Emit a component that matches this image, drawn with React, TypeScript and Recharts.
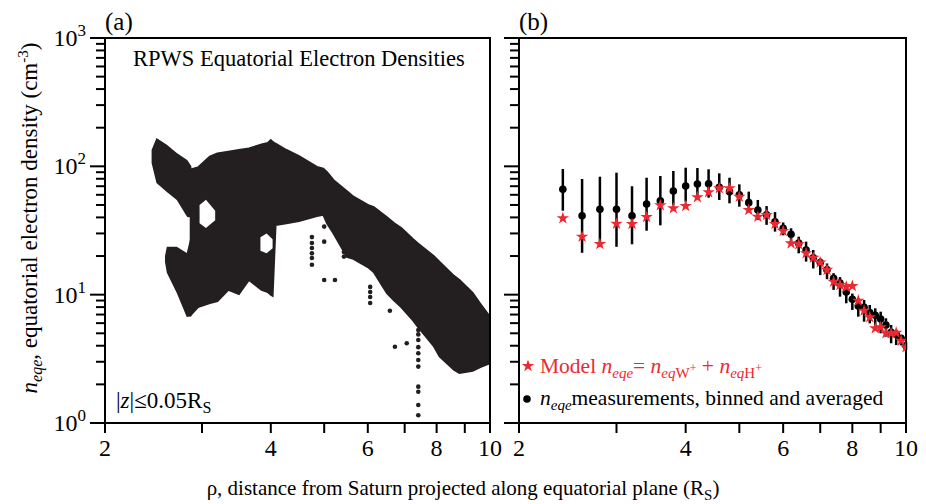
import { ComposedChart, Area, Scatter, XAxis, YAxis, ErrorBar, ReferenceArea, Symbols } from "recharts";

const FONT = '"Liberation Serif", "Times New Roman", serif';
const INK = "#231f20";
const RED = "#ec2830";

// axis ticks
const xTicks = [2, 3, 4, 5, 6, 7, 8, 9, 10];
const xLabels = [2, 4, 6, 8, 10];
const decades = [1, 10, 100];
const mantissas = [1, 2, 3, 4, 5, 6, 7, 8, 9];
const yTicks = decades.flatMap((d) => mantissas.map((m) => m * d)).concat(1000);

// panel (a): envelope of the RPWS density cloud
const cloudX = [2.85, 2.95, 3.1, 3.2, 3.35, 3.5, 3.65, 3.85, 3.95, 4.0, 4.03, 4.08, 4.27, 4.5, 4.85, 4.98, 5.06, 5.2, 5.5, 5.65, 6.0, 6.15, 6.5, 6.7, 6.9, 7.25, 7.4, 7.9, 8.1, 8.6, 8.8, 9.3, 9.6, 10];
const cloudHi = [94, 98, 119, 126, 130, 134, 138, 148, 152, 160, 155, 150, 134, 120, 99, 96, 90, 78, 64, 58, 50, 48, 40, 36, 33, 27, 25, 20, 18, 14, 13, 10.3, 8.5, 6.7];
const cloudLo = [6.8, 8.0, 8.6, 8.9, 10.9, 10.1, 13, 10.9, 10.5, 10, 9.8, 34.9, 36, 37.5, 41, 42, 36, 30, 19.7, 19, 16.4, 15, 10.3, 9, 8.0, 6.3, 5.6, 4, 3.3, 2.6, 2.45, 2.55, 2.73, 2.93];

const featherX = [2.43, 2.48, 2.59, 2.7, 2.82, 2.87];
const featherHi = [134, 166, 147, 127, 112, 100];
const featherLo = [106, 74, 63, 54.7, 40.3, 40];

const chunkX = [2.57, 2.59, 2.7, 2.815, 2.87];
const chunkHi = [20, 23.6, 23.6, 21.1, 30];
const chunkLo = [18, 14.8, 10.3, 6.7, 6.8];

// gaps inside the cloud
const hole1X = [2.97, 3.05, 3.17];
const hole1Hi = [50, 55, 45];
const hole1Lo = [36, 33, 38];
const hole2X = [3.83, 3.93, 4.03];
const hole2Hi = [28, 30, 27];
const hole2Lo = [22, 21, 23];

// isolated points under the cloud
const strayX = [4.75, 4.75, 4.75, 4.75, 4.75, 4.75, 5.0, 5.0, 5.0, 5.23, 5.43, 5.43, 5.43, 6.06, 6.06, 6.06, 6.06, 6.58, 6.72, 7.06, 7.41, 7.41, 7.41, 7.41, 7.41, 7.41, 7.41, 7.41, 7.41, 7.41, 7.41];
const strayY = [28.1, 25.3, 23.1, 21, 19.3, 17.1, 33.9, 25.9, 13.0, 13.0, 23.6, 21.5, 19.8, 11.5, 10.5, 9.6, 8.6, 7.5, 3.93, 4.18, 5.3, 4.9, 4.43, 3.9, 3.5, 3.1, 2.75, 1.92, 1.75, 1.38, 1.15];

// panel (b): binned measurements and model
const binX = [2.4, 2.6, 2.8, 3.0, 3.2, 3.4, 3.6, 3.8, 4.0, 4.2, 4.4, 4.6, 4.8, 5.0, 5.2, 5.4, 5.6, 5.8, 6.0, 6.2, 6.4, 6.6, 6.8, 7.0, 7.2, 7.4, 7.6, 7.8, 8.0, 8.2, 8.4, 8.6, 8.8, 9.0, 9.2, 9.4, 9.6, 9.8, 10];
const measured = [66.2, 41.2, 46.3, 46.3, 41.2, 50.9, 54, 64.2, 70.3, 72.8, 73, 68.7, 63.5, 60, 52.1, 45.7, 42, 37, 32.9, 29.5, 25.2, 22.3, 19.4, 17.8, 15.6, 13.4, 12.3, 10.5, 9.2, 8.16, 7.97, 7.24, 6.9, 6.46, 5.8, 5.1, 4.9, 4.57, 4.0];
const measLo = [45.1, 21.2, 23.6, 23.6, 24.7, 31.5, 34.7, 50, 53, 56, 57, 54.7, 51.5, 48.5, 47.1, 38.2, 35, 31, 29, 24.4, 21, 18.1, 16.0, 14.2, 13.2, 10.9, 9.65, 8.57, 7.6, 6.74, 6.16, 5.98, 5.63, 5.0, 4.71, 4.18, 4.05, 4.05, 3.7];
const measHi = [95.3, 79.7, 83, 89.2, 69.9, 81.5, 84.1, 92, 97.6, 97, 94.8, 88.2, 81.5, 72.4, 63.5, 54.7, 49, 44, 36.5, 32.9, 28.3, 25.9, 22.3, 19.2, 17.5, 14.7, 13.7, 11.9, 10.2, 9.36, 9.09, 8.31, 7.83, 7.37, 6.54, 5.8, 5.3, 4.85, 4.3];
const model = [39.4, 28.3, 24.8, 35.7, 35.5, 40.3, 49.7, 47.1, 49.1, 57.4, 62.8, 67.4, 67.4, 58, 45.7, 40.5, 41.8, 35.5, 31.3, 25.1, 24.7, 21, 19.4, 17.8, 15.6, 12.6, 11.9, 11.5, 11.7, 8.98, 7.5, 6.66, 5.47, 5.56, 5.0, 5.0, 5.05, 4.38, 3.89];

const band = (xs: number[], lo: number[], hi: number[]) => xs.map((x, i) => ({ x, range: [lo[i], hi[i]] }));

const cloudData = band(cloudX, cloudLo, cloudHi);
const featherData = band(featherX, featherLo, featherHi);
const chunkData = band(chunkX, chunkLo, chunkHi);
const hole1Data = band(hole1X, hole1Lo, hole1Hi);
const hole2Data = band(hole2X, hole2Lo, hole2Hi);
const strayData = strayX.map((x, i) => ({ x, y: strayY[i] }));
const measData = binX.map((x, i) => ({ x, y: measured[i], err: [measured[i] - measLo[i], measHi[i] - measured[i]] }));
const modelData = binX.map((x, i) => ({ x, y: model[i] }));

const TXT = { fontFamily: FONT };

function XTick(props: any) {
  const { x, y, payload } = props;
  const v = payload.value;
  return (
    <g>
      <line x1={x} x2={x} y1={y} y2={y + 10} stroke="#000" strokeWidth={2} />
      {xLabels.includes(v) && (
        <text x={x} y={y + 33} textAnchor="middle" fontSize={24} style={TXT} fill="#000">
          {v}
        </text>
      )}
    </g>
  );
}

function YTick(props: any) {
  const { x, y, payload, labels } = props;
  const v = payload.value;
  const lg = Math.log10(v);
  const exp = Math.round(lg);
  const major = Math.abs(lg - exp) < 1e-6;
  const len = major ? 15 : 9;
  return (
    <g>
      <line x1={x - len} x2={x} y1={y} y2={y} stroke="#000" strokeWidth={2} />
      {labels && major && (
        <text x={x - 19} y={y + 8} textAnchor="end" fontSize={24} style={TXT} fill="#000">
          10<tspan dy={-10} fontSize={17}>{exp}</tspan>
        </text>
      )}
    </g>
  );
}

function Axes({ labels, yWidth }: { labels: boolean; yWidth: number }) {
  return [
    <XAxis
      key="x"
      dataKey="x"
      type="number"
      scale="log"
      domain={[2, 10]}
      ticks={xTicks}
      interval={0}
      allowDataOverflow
      height={40}
      tickSize={0}
      tickMargin={0}
      axisLine={false}
      tickLine={false}
      tick={(p: any) => <XTick {...p} />}
    />,
    <YAxis
      key="y"
      type="number"
      scale="log"
      domain={[1, 1000]}
      ticks={yTicks}
      interval={0}
      allowDataOverflow
      width={yWidth}
      tickSize={0}
      tickMargin={0}
      axisLine={false}
      tickLine={false}
      tick={(p: any) => <YTick {...p} labels={labels} />}
    />,
  ];
}

const sub = 5;

export default function App() {
  return (
    <div style={{ position: "absolute", left: 0, top: 0, width: 926, height: 504, background: "#fff" }}>
      <div style={{ position: "absolute", left: 0, top: 0 }}>
        <ComposedChart width={516} height={504} margin={{ top: 38, right: 26, bottom: 41, left: 55 }}>
          {Axes({ labels: true, yWidth: 50 })}
          <Area data={featherData} dataKey="range" type="linear" stroke="none" fill={INK} fillOpacity={1} isAnimationActive={false} />
          <Area data={chunkData} dataKey="range" type="linear" stroke="none" fill={INK} fillOpacity={1} isAnimationActive={false} />
          <Area data={cloudData} dataKey="range" type="linear" stroke={INK} strokeWidth={2} fill={INK} fillOpacity={1} isAnimationActive={false} />
          <Area data={hole1Data} dataKey="range" type="linear" stroke="none" fill="#fff" fillOpacity={1} isAnimationActive={false} />
          <Area data={hole2Data} dataKey="range" type="linear" stroke="none" fill="#fff" fillOpacity={1} isAnimationActive={false} />
          <Scatter data={strayData} dataKey="y" fill={INK} isAnimationActive={false}
            shape={(p: any) => <circle cx={p.cx} cy={p.cy} r={2.3} fill={INK} />} />
          <ReferenceArea x1={2} x2={10} y1={1} y2={1000} fill="none" stroke="#000" strokeWidth={2} />
        </ComposedChart>
      </div>
      <div style={{ position: "absolute", left: 500, top: 0 }}>
        <ComposedChart width={426} height={504} margin={{ top: 38, right: 20, bottom: 41, left: 0 }}>
          {Axes({ labels: false, yWidth: 19 })}
          <Scatter data={measData} dataKey="y" fill="#000" isAnimationActive={false}
            shape={(p: any) => <circle cx={p.cx} cy={p.cy} r={3.8} fill="#000" />}>
            <ErrorBar dataKey="err" direction="y" width={0} stroke="#000" strokeWidth={2.5} />
          </Scatter>
          <Scatter data={modelData} dataKey="y" fill={RED} isAnimationActive={false}
            shape={(p: any) => <Symbols cx={p.cx} cy={p.cy} type="star" size={48} fill={RED} />} />
          <ReferenceArea x1={2} x2={10} y1={1} y2={1000} fill="none" stroke="#000" strokeWidth={2} />
        </ComposedChart>
      </div>
      <svg width={926} height={504} style={{ position: "absolute", left: 0, top: 0, pointerEvents: "none" }}>
        <text x={105} y={30} fontSize={25} style={TXT}>(a)</text>
        <text x={519} y={30} fontSize={25} style={TXT}>(b)</text>
        <text x={133} y={66} fontSize={22.5} style={TXT}>RPWS Equatorial Electron Densities</text>
        <text x={116} y={408} fontSize={23} style={TXT}>
          |<tspan fontStyle="italic">z</tspan>|≤0.05R<tspan fontSize={16} dy={sub}>S</tspan>
        </text>
        <text transform="translate(37,218) rotate(-90)" textAnchor="middle" fontSize={23} style={TXT}>
          <tspan fontStyle="italic">n</tspan>
          <tspan fontStyle="italic" fontSize={16} dy={sub}>eqe</tspan>
          <tspan dy={-sub}>, equatorial electron density (cm</tspan>
          <tspan fontSize={15} dy={-9}>-3</tspan>
          <tspan dy={9}>)</tspan>
        </text>
        <text x={463} y={495} textAnchor="middle" fontSize={21} style={TXT}>
          ρ, distance from Saturn projected along equatorial plane (R<tspan fontSize={15} dy={sub}>S</tspan>
          <tspan dy={-sub}>)</tspan>
        </text>
        <Symbols cx={528} cy={366} type="star" size={48} fill={RED} />
        <text x={540} y={373} fontSize={21.5} fill={RED} style={TXT}>
          Model <tspan fontStyle="italic">n</tspan>
          <tspan fontStyle="italic" fontSize={15} dy={sub}>eqe</tspan>
          <tspan dy={-sub}>= </tspan>
          <tspan fontStyle="italic">n</tspan>
          <tspan fontStyle="italic" fontSize={15} dy={sub}>eq</tspan>
          <tspan fontSize={15}>W</tspan>
          <tspan fontSize={12} dy={-6}>+</tspan>
          <tspan dy={6 - sub}> + </tspan>
          <tspan fontStyle="italic">n</tspan>
          <tspan fontStyle="italic" fontSize={15} dy={sub}>eq</tspan>
          <tspan fontSize={15}>H</tspan>
          <tspan fontSize={12} dy={-6}>+</tspan>
        </text>
        <circle cx={527} cy={399} r={3.8} fill="#000" />
        <text x={540} y={405} fontSize={21.5} fill="#000" style={TXT}>
          <tspan fontStyle="italic">n</tspan>
          <tspan fontStyle="italic" fontSize={15} dy={sub}>eqe</tspan>
          <tspan dy={-sub}>measurements, binned and averaged</tspan>
        </text>
      </svg>
    </div>
  );
}
